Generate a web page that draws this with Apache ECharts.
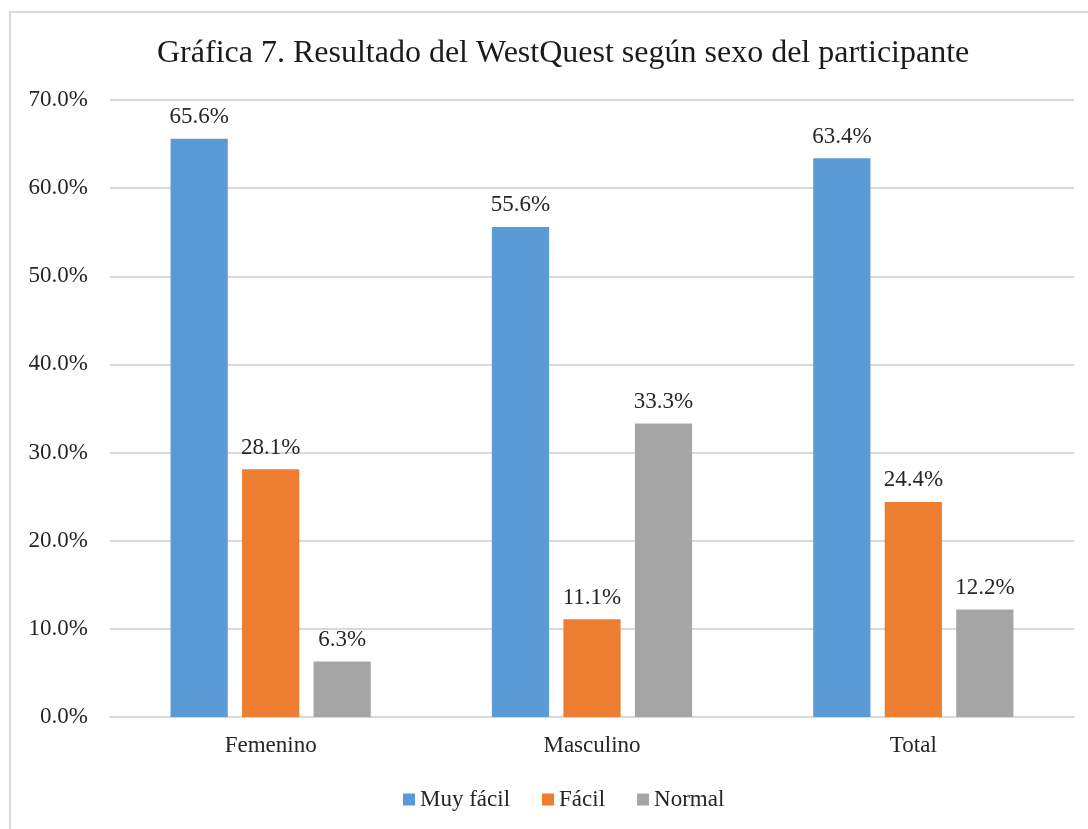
<!DOCTYPE html>
<html>
<head>
<meta charset="UTF-8">
<title>Gráfica 7</title>
<script src="https://cdn.jsdelivr.net/npm/echarts@6/dist/echarts.min.js"></script>
<style>
  html, body { margin: 0; padding: 0; background: #fff; }
  #chart { width: 1088px; height: 829px; }
</style>
</head>
<body>
<div id="chart"></div>
<script>
var categories = ['Femenino', 'Masculino', 'Total'];
var muyFacil = [65.6, 55.6, 63.4];
var facil = [28.1, 11.1, 24.4];
var normal = [6.3, 33.3, 12.2];
var yTicks = [0, 10, 20, 30, 40, 50, 60, 70];

var serif = '"Liberation Serif", "DejaVu Serif", serif';
var chart = echarts.init(document.getElementById('chart'));

function barSeries(name, data, color) {
  return {
    name: name,
    type: 'bar',
    data: data,
    barWidth: '17.8%',
    barGap: '25%',
    itemStyle: { color: color },
    label: {
      show: true,
      position: 'top',
      distance: 10,
      fontFamily: serif,
      fontSize: 23,
      color: '#262626',
      formatter: function (p) { return p.value.toFixed(1) + '%'; }
    }
  };
}

chart.setOption({
  animation: false,
  graphic: [{
    type: 'rect',
    shape: { x: 10, y: 12, width: 1100, height: 840 },
    style: { fill: 'none', stroke: '#d9d9d9', lineWidth: 2 },
    silent: true
  }],
  title: {
    text: 'Gráfica 7. Resultado del WestQuest según sexo del participante',
    left: 152,
    top: 33,
    textStyle: { fontFamily: serif, fontSize: 32, fontWeight: 'normal', color: '#1a1a1a' }
  },
  legend: {
    bottom: 13,
    left: 398,
    itemWidth: 12,
    itemHeight: 12,
    itemGap: 32,
    icon: 'rect',
    textStyle: { fontFamily: serif, fontSize: 23, color: '#262626' }
  },
  grid: { left: 110, right: 14, top: 100, bottom: 112 },
  xAxis: {
    type: 'category',
    data: categories,
    axisLine: { lineStyle: { color: '#d9d9d9', width: 2 } },
    axisTick: { show: false },
    axisLabel: { fontFamily: serif, fontSize: 23, color: '#262626', margin: 17 }
  },
  yAxis: {
    type: 'value',
    min: yTicks[0],
    max: yTicks[yTicks.length - 1],
    interval: 10,
    axisLine: { show: false },
    axisTick: { show: false },
    splitLine: { lineStyle: { color: '#d9d9d9', width: 2 } },
    axisLabel: {
      fontFamily: serif, fontSize: 23, color: '#262626', margin: 22,
      formatter: function (v) { return v.toFixed(1) + '%'; }
    }
  },
  series: [
    barSeries('Muy fácil', muyFacil, '#5b9bd5'),
    barSeries('Fácil', facil, '#ed7d31'),
    barSeries('Normal', normal, '#a5a5a5')
  ]
});
</script>
</body>
</html>
